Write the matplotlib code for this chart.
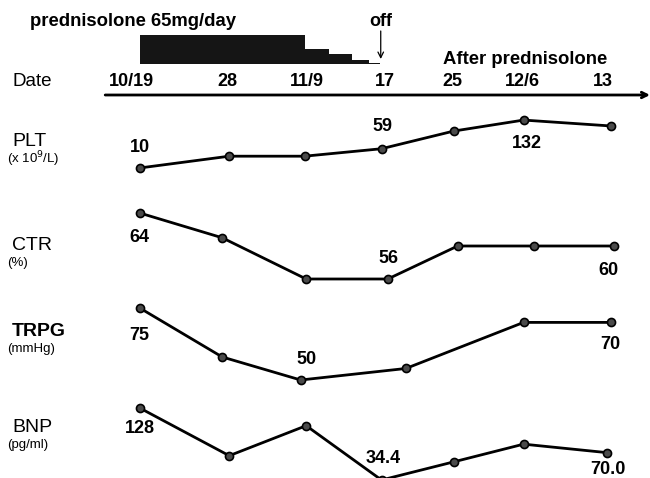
import numpy as np
import matplotlib
matplotlib.use("Agg")
import matplotlib.pyplot as plt

plt.rcParams['font.family'] = ['Liberation Sans', 'DejaVu Sans']

# timeline: positions of the sampling dates along the date axis (slot units)
dates = ["10/19", "28", "11/9", "17", "25", "12/6", "13"]
date_pos = [0, 1.22, 2.23, 3.22, 4.08, 4.98, 6.0]

# prednisolone taper (mg/day), each step starts at taper_start
taper_start = [0.10, 2.20, 2.51, 2.80, 3.02]
taper_end = [2.20, 2.51, 2.80, 3.02, 3.16]
taper_dose = [65, 33, 22, 9, 3]

plt_x = [0.10, 1.24, 2.20, 3.18, 4.10, 4.99, 6.10]
plt_val = [10, 40, 40, 59, 104, 132, 117]

ctr_x = [0.10, 1.15, 2.22, 3.26, 4.15, 5.12, 6.14]
ctr_val = [64, 61, 56, 56, 60, 60, 60]

trpg_x = [0.10, 1.15, 2.15, 3.49, 4.99, 6.10]
trpg_val = [75, 58, 50, 54, 70, 70]

bnp_x = [0.10, 1.24, 2.22, 3.18, 4.10, 4.99, 6.05]
bnp_val = [128, 66, 105, 34.4, 58, 81, 70.0]

W, H = 650, 478
XL, XR = -1.68, 6.60

fig = plt.figure(figsize=(W / 100, H / 100), dpi=100)


def band(top, bottom):
    ax = fig.add_axes([0, 1 - bottom / H, 1, (bottom - top) / H])
    ax.set_xlim(XL, XR)
    ax.axis('off')
    ax.patch.set_alpha(0)
    return ax


def series(ax, x, y, labels):
    ax.plot(x, y, '-', color='black', lw=2.0, zorder=2, clip_on=False)
    ax.plot(x, y, 'o', ms=5.8, mfc='#4a4a4a', mec='black', mew=1.2,
            zorder=3, clip_on=False)
    for i, (dx, dy) in labels.items():
        txt = f"{y[i]:.1f}" if isinstance(y[i], float) else f"{y[i]}"
        ax.annotate(txt, (x[i], y[i]), xytext=(dx, dy),
                    textcoords='offset pixels', ha='center', va='center',
                    fontsize=13, fontweight='bold', annotation_clip=False)


# header: taper bar, dates, axis arrow
head = band(0, 100)
head.set_ylim(100, 0)
head.text(XL + 30 / 78.5, 21, "prednisolone 65mg/day", fontsize=13.3,
          fontweight='bold', va='center', ha='left')
head.text(3.17, 21, "off", fontsize=13, fontweight='bold',
          va='center', ha='center')
head.annotate("", xy=(3.17, 59), xytext=(3.17, 31),
              arrowprops=dict(arrowstyle='->', lw=0.9, color='black',
                              shrinkA=0, shrinkB=0))
head.text(3.96, 60, "After prednisolone", fontsize=13.3, fontweight='bold',
          va='center', ha='left')
head.text(XL + 12 / 78.5, 81, "Date", fontsize=13.5, va='center', ha='left')
for p, d in zip(date_pos, dates):
    head.text(p, 81, d, fontsize=13, fontweight='bold', va='center', ha='center')
head.annotate("", xy=(XR, 95), xytext=(-0.34, 95),
              arrowprops=dict(arrowstyle='->', lw=2, color='black',
                              shrinkA=0, shrinkB=0))

dose = band(35, 64)
dose.set_ylim(0, 65)
dose.bar(taper_start, taper_dose, width=np.subtract(taper_end, taper_start),
         align='edge', color='#151515', edgecolor='none')

# left-hand parameter labels
rows = [("PLT", "(x 10$^9$/L)", 141, 'normal'),
        ("CTR", "(%)", 245, 'normal'),
        ("TRPG", "(mmHg)", 331, 'bold'),
        ("BNP", "(pg/ml)", 427, 'normal')]
for name, unit, yp, w in rows:
    fig.text(12 / W, 1 - yp / H, name, fontsize=14, fontweight=w, va='center')
    fig.text(7 / W, 1 - (yp + 18) / H, unit, fontsize=9.5, va='center')

ax = band(113, 171.9)
ax.set_ylim(0, 150)
series(ax, plt_x, plt_val, {0: (0, 20), 3: (1, 22), 5: (3, -23)})

ax = band(196.5, 295.5)
ax.set_ylim(54, 66)
series(ax, ctr_x, ctr_val, {0: (0, -24), 3: (1, 21), 6: (-5, -24)})

ax = band(293.6, 394.4)
ax.set_ylim(45, 80)
series(ax, trpg_x, trpg_val, {0: (0, -27), 2: (6, 21), 5: (0, -22)})

ax = band(402.6, 491.1)
ax.set_ylim(20, 135)
series(ax, bnp_x, bnp_val, {0: (0, -21), 3: (2, 22), 6: (1, -17)})

fig.savefig("out.png", dpi=100)
